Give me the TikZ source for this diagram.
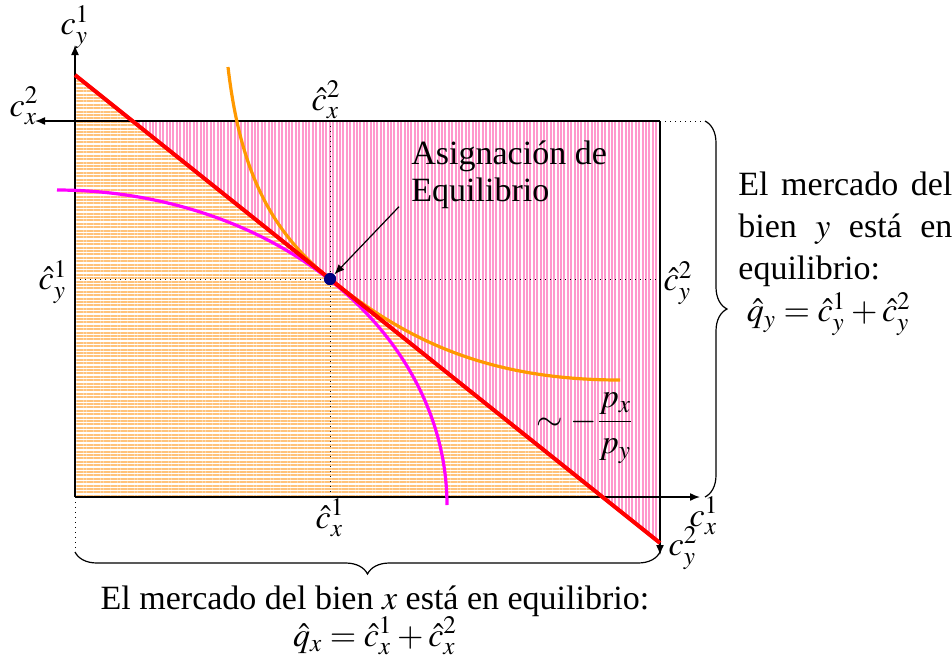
\documentclass[tikz,border=0pt]{standalone}
\usepackage{amsmath}
\usepackage{mathptmx}
\usepackage{fontspec}
\setmainfont{Liberation Serif}
\newfontfamily\timesfont{Liberation Serif}
\usetikzlibrary{arrows.meta,patterns.meta,decorations.pathreplacing}
\definecolor{BudgetRed}{HTML}{FF0000}
\definecolor{IndifOrange}{HTML}{FF9900}
\definecolor{IndifMagenta}{HTML}{FF00FF}
\definecolor{EqNavy}{HTML}{000080}
\definecolor{StripeOrange}{HTML}{FFC27A}
\definecolor{StripePink}{HTML}{FF99CC}

\begin{document}
\begin{tikzpicture}[x=0.5pt, y=-0.5pt, font=\timesfont\fontsize{17}{20}\selectfont, >={Latex[length=5pt,width=4pt]}]
        \useasboundingbox (0,0) rectangle (952,659);
        \coordinate (o1) at (75,497);
        \coordinate (o2) at (660,121);
        \coordinate (y1end) at (75,45);
        \coordinate (x1end) at (700,497);
        \coordinate (x2end) at (35,121);
        \coordinate (y2end) at (660,555);
        \coordinate (bl) at (75,75);
        \coordinate (br) at (660,543);
        \fill[pattern={Lines[angle=0,distance=1.7pt,line width=1pt]}, pattern color=StripeOrange] (bl) -- (602.5,497) -- (o1) -- cycle;
        \fill[pattern={Lines[angle=90,distance=1.7pt,line width=1pt]}, pattern color=StripePink] (132.5,121) -- (o2) -- (br) -- cycle;
        \node[circle, fill=EqNavy, inner sep=0pt, minimum size=6pt] (eq) at (330,279) {};
        \draw[dotted, line width=0.5pt] (o1 |- eq) -- (o2 |- eq);
        \draw[dotted, line width=0.5pt] (eq |- o2) -- (eq |- o1);
        \draw[->, line width=0.75pt] (o1) -- (y1end);
        \draw[->, line width=0.75pt] (o1) -- (x1end);
        \draw[->, line width=0.75pt] (o2) -- (x2end);
        \draw[->, line width=0.75pt] (o2) -- (y2end);
        \draw[IndifOrange, line width=1.6pt] (228,67) .. controls (240,170) and (270,231) .. (eq.center) .. controls (400,335) and (480,380) .. (620,380);
        \draw[IndifMagenta, line width=1.6pt] plot[domain=0:90, samples=80] ({57+390*cos(\x)}, {505-315*sin(\x)});
        \draw[BudgetRed, line width=2pt] (bl) -- (br);
        \node[circle, fill=EqNavy, inner sep=0pt, minimum size=6pt] at (eq) {};
        \node (cy1) at (75,27) {$c_y^1$};
        \node (cx2) at (24,106) {$c_x^2$};
        \node (cx1) at (704,516) {$c_x^1$};
        \node (cy2) at (683,548) {$c_y^2$};
        \node (hcx2) at (326,100) {$\hat{c}_x^2$};
        \node (hcy1) at (53,282) {$\hat{c}_y^1$};
        \node (hcy2) at (678,283) {$\hat{c}_y^2$};
        \node (hcx1) at (330,518) {$\hat{c}_x^1$};
        \node[anchor=north west, inner sep=0pt, align=left, font=\timesfont\fontsize{17}{18.5}\selectfont] (asig) at (411,140) {Asignación de\\Equilibrio};
        \draw[->, line width=0.6pt] ([xshift=-6pt,yshift=1pt]asig.south west) -- (eq);
        \node[font=\fontsize{17}{20}\selectfont] (slope) at (585,428) {$\sim -\dfrac{p_x}{p_y}$};
        \draw[dotted, line width=0.5pt] (o2) -- (705,121);
        \draw[decorate, decoration={brace, amplitude=11pt}, line width=0.6pt] (705,121) -- (705,497);
        \node[anchor=north west, inner sep=0pt, align=left, font=\timesfont\fontsize{17}{21}\selectfont] (mky) at (738,172) {\makebox[107pt][s]{El mercado del}\\\makebox[107pt][s]{bien $y$ está en}\\equilibrio:\\\ $\hat{q}_y=\hat{c}_y^1+\hat{c}_y^2$};
        \draw[dotted, line width=0.5pt] (o1) -- (75,552);
        \draw[decorate, decoration={brace, amplitude=11pt}, line width=0.6pt] (660,552) -- (75,552);
        \node[anchor=base] (mkx) at (375,609) {El mercado del bien $x$ está en equilibrio:};
        \node[anchor=base] (qx) at (375,646) {$\hat{q}_x=\hat{c}_x^1+\hat{c}_x^2$};
      \end{tikzpicture}
\end{document}
